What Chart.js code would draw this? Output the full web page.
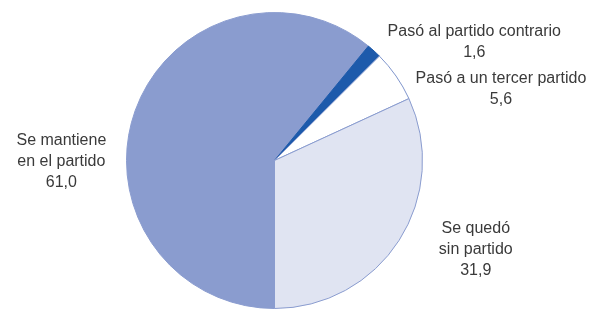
<!DOCTYPE html>
<html>
<head>
<meta charset="utf-8">
<script src="https://cdn.jsdelivr.net/npm/chart.js@4/dist/chart.umd.min.js"></script>
<style>
html,body{margin:0;padding:0;background:#fff;}
#wrap{width:591px;height:309px;position:relative;}
</style>
</head>
<body>
<div id="wrap"><canvas id="c" width="591" height="309"></canvas></div>
<script>
const categories = [
  ["Se mantiene", "en el partido"],
  ["Pasó al partido contrario"],
  ["Pasó a un tercer partido"],
  ["Se quedó", "sin partido"]
];
const values = [61.0, 1.6, 5.6, 31.9];
const colors = ["#8a9ccf", "#1d5aab", "#ffffff", "#e0e4f2"];

// label anchor (text block centre) relative to the pie centre, in units of radius
const labelAnchors = [
  [-1.44, 0.01],
  [1.35, -0.80],
  [1.53, -0.485],
  [1.36, 0.60]
];

const fmt = v => v.toFixed(1).replace('.', ',');

const labelPlugin = {
  id: 'labels',
  afterDraw(chart) {
    const meta = chart.getDatasetMeta(0);
    const arc0 = meta.data[0];
    const cx = arc0.x, cy = arc0.y, r = arc0.outerRadius;
    const ctx = chart.ctx;
    ctx.save();
    ctx.font = '16px "Liberation Sans", Arial, sans-serif';
    ctx.fillStyle = '#3a3a3a';
    ctx.textAlign = 'center';
    ctx.textBaseline = 'middle';
    const lh = 21;
    categories.forEach((lines, i) => {
      const all = lines.concat([fmt(values[i])]);
      const x = cx + labelAnchors[i][0] * r;
      const y = cy + labelAnchors[i][1] * r;
      const y0 = y - (all.length - 1) * lh / 2;
      all.forEach((t, k) => ctx.fillText(t, x, y0 + k * lh));
    });
    ctx.restore();
  }
};

new Chart(document.getElementById('c'), {
  type: 'pie',
  data: {
    labels: categories.map(c => c.join(' ')),
    datasets: [{
      data: values,
      backgroundColor: colors,
      borderColor: ["#8a9ccf", "#1d5aab", "#7f95cc", "#8a9ccf"],
      borderWidth: 1
    }]
  },
  options: {
    responsive: false,
    animation: false,
    rotation: 180,
    layout: { padding: { top: 12, bottom: 0, left: 99, right: 141 } },
    plugins: { legend: { display: false }, tooltip: { enabled: false } }
  },
  plugins: [labelPlugin]
});
</script>
</body>
</html>
